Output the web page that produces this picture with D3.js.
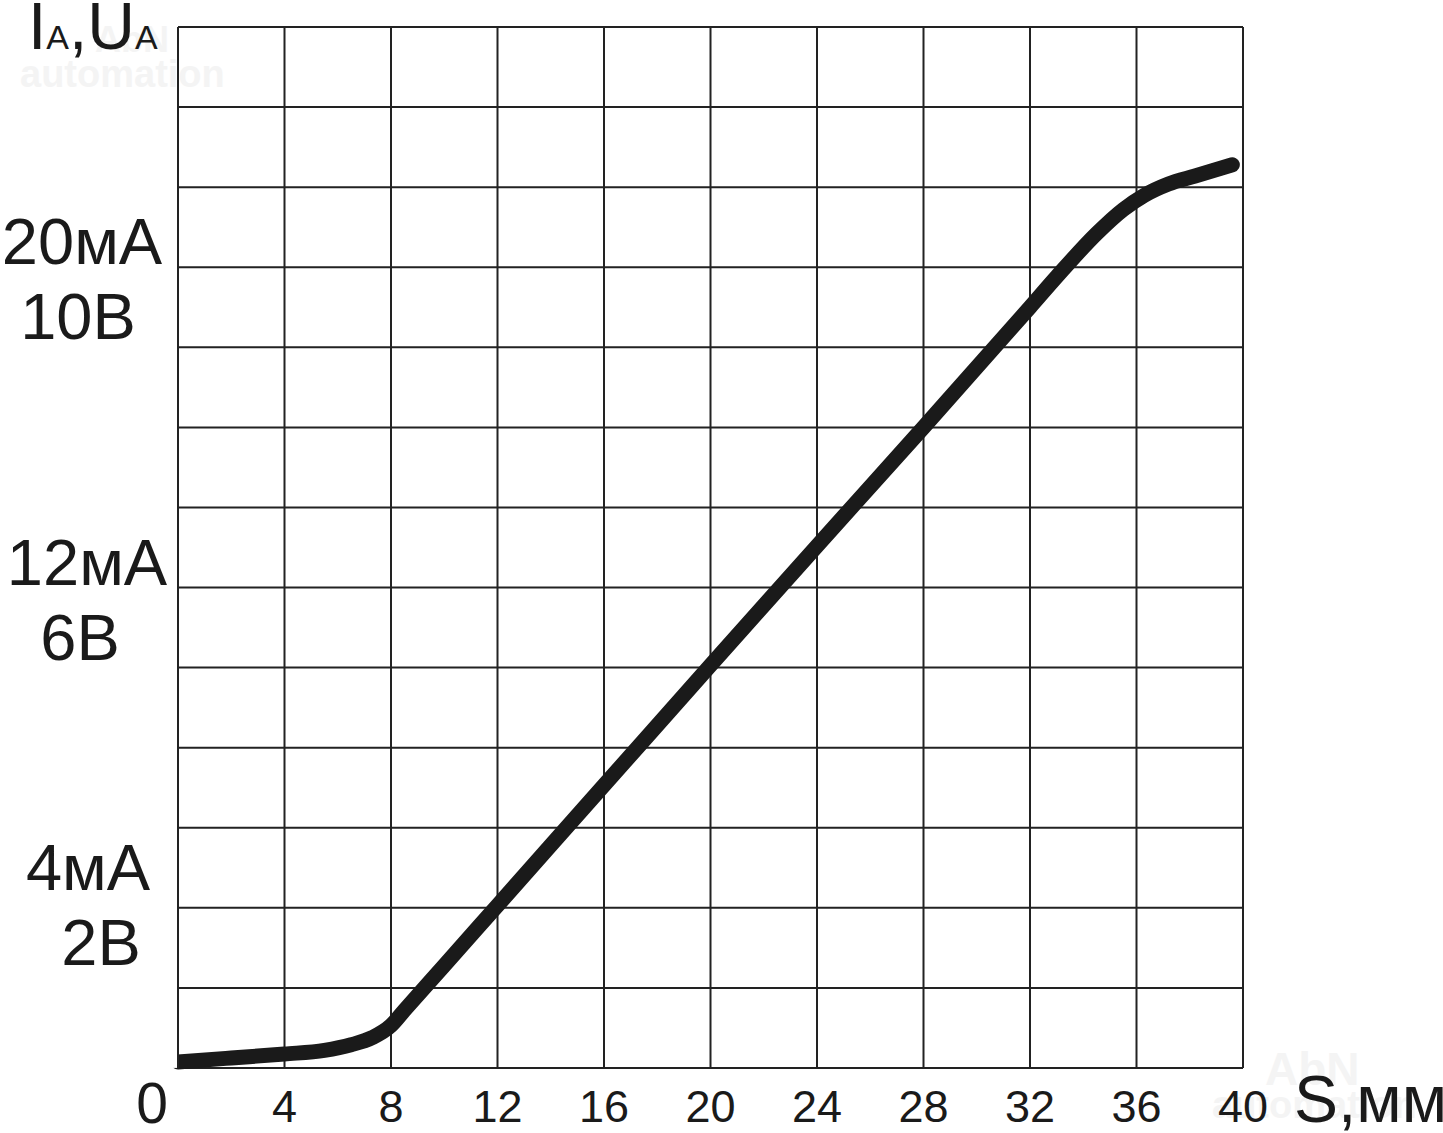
<!DOCTYPE html>
<html>
<head>
<meta charset="utf-8">
<script src="https://cdn.jsdelivr.net/npm/d3@7"></script>
<style>
	body { margin: 0; background: #fff; }
	svg { display: block; }
	text { font-family: "Liberation Sans", Arial, sans-serif; fill: #1a1a1a; }
</style>
</head>
<body>
<script>

//Curve: S in mm, output in grid units (1 unit = 1 V = 2 mA)
let sValues = [0, 2, 4, 5.5, 6.5, 7.3, 8, 8.5, 10, 12, 16, 20, 24, 28, 32, 33, 34.5, 35.5, 36.3, 37.2, 38.2, 39.6];
let outValues = [0.075, 0.125, 0.175, 0.22, 0.29, 0.38, 0.53, 0.72, 1.28, 2.03, 3.53, 5.03, 6.52, 8.0, 9.5, 9.88, 10.42, 10.72, 10.9, 11.04, 11.14, 11.28];

//Axis ticks and labels
let xTicks = [4, 8, 12, 16, 20, 24, 28, 32, 36, 40];
let yLevels = [2, 6, 10];
let currentLabels = ["4мА", "12мА", "20мА"];
let voltageLabels = ["2В", "6В", "10В"];

window.onload = drawChart();

function drawChart(){

	let width = 1443;
	let height = 1133;

	let svg = d3.select("body")
		.append("svg")
		.attr("width", width)
		.attr("height", height);

	//Plot frame
	let x = d3.scaleLinear().domain([0, 40]).range([178, 1243]);
	let y = d3.scaleLinear().domain([0, 13]).range([1068, 27]);

	//Faint watermarks
	let wm = svg.append("g").style("font-weight", "bold");
	wm.append("text").attr("x", 95).attr("y", 52).style("font-size", "36px").style("fill", "#f4f4f4").text("AbN");
	wm.append("text").attr("x", 20).attr("y", 87).style("font-size", "38px").style("fill", "#f4f4f4").text("automation");
	wm.append("text").attr("x", 1265).attr("y", 1085).style("font-size", "46px").style("fill", "#f4f4f4").text("AbN");
	wm.append("text").attr("x", 1212).attr("y", 1118).style("font-size", "38px").style("fill", "#f4f4f4").text("automation");

	//Grid lines
	let grid = svg.append("g")
		.attr("stroke", "#222")
		.attr("stroke-width", 2);

	grid.selectAll(".vline")
		.data(d3.range(0, 41, 4))
		.enter()
		.append("line")
		.attr("x1", d => x(d))
		.attr("x2", d => x(d))
		.attr("y1", y(0))
		.attr("y2", y(13));

	grid.selectAll(".hline")
		.data(d3.range(0, 14))
		.enter()
		.append("line")
		.attr("x1", x(0))
		.attr("x2", x(40))
		.attr("y1", d => y(d))
		.attr("y2", d => y(d));

	//Curve
	let line = d3.line()
		.x(d => x(d[0]))
		.y(d => y(d[1]))
		.curve(d3.curveMonotoneX);

	svg.append("path")
		.datum(d3.zip(sValues, outValues))
		.attr("fill", "none")
		.attr("stroke", "#1a1a1a")
		.attr("stroke-width", 15)
		.attr("stroke-linecap", "round")
		.attr("d", line);

	//Cover the round cap sticking out left of the frame
	svg.append("rect")
		.attr("x", x(0) - 12)
		.attr("y", y(1))
		.attr("width", 11)
		.attr("height", 80)
		.attr("fill", "#fff");
	svg.append("line")
		.attr("x1", x(0)).attr("x2", x(0))
		.attr("y1", y(1)).attr("y2", y(0))
		.attr("stroke", "#222").attr("stroke-width", 2);

	//X tick labels
	svg.selectAll(".xlab")
		.data(xTicks)
		.enter()
		.append("text")
		.attr("x", d => x(d))
		.attr("y", 1122)
		.attr("text-anchor", "middle")
		.style("font-size", "45px")
		.text(d => d);

	svg.append("text")
		.attr("x", 152)
		.attr("y", 1123)
		.attr("text-anchor", "middle")
		.style("font-size", "57px")
		.text("0");

	svg.append("text")
		.attr("x", 1294)
		.attr("y", 1122)
		.style("font-size", "66px")
		.text("S,мм");

	//Y labels, current above the grid line and voltage below
	let nudge = [-15, 0, 0];
	svg.selectAll(".ylabA")
		.data(yLevels)
		.enter()
		.append("text")
		.attr("x", (d, i) => [88, 87, 82][i])
		.attr("y", (d, i) => y(d) - 3 + nudge[i])
		.attr("text-anchor", "middle")
		.style("font-size", "65px")
		.text((d, i) => currentLabels[i]);

	svg.selectAll(".ylabV")
		.data(yLevels)
		.enter()
		.append("text")
		.attr("x", (d, i) => [101, 80, 78][i])
		.attr("y", (d, i) => y(d) + 72 + nudge[i])
		.attr("text-anchor", "middle")
		.style("font-size", "65px")
		.text((d, i) => voltageLabels[i]);

	//Y axis title with subscripts
	let title = svg.append("text")
		.attr("x", 28)
		.attr("y", 49)
		.style("font-size", "66px");
	title.append("tspan").text("I");
	title.append("tspan").style("font-size", "34px").text("A");
	title.append("tspan").text(",U");
	title.append("tspan").style("font-size", "34px").text("A");
};
</script>
</body>
</html>
